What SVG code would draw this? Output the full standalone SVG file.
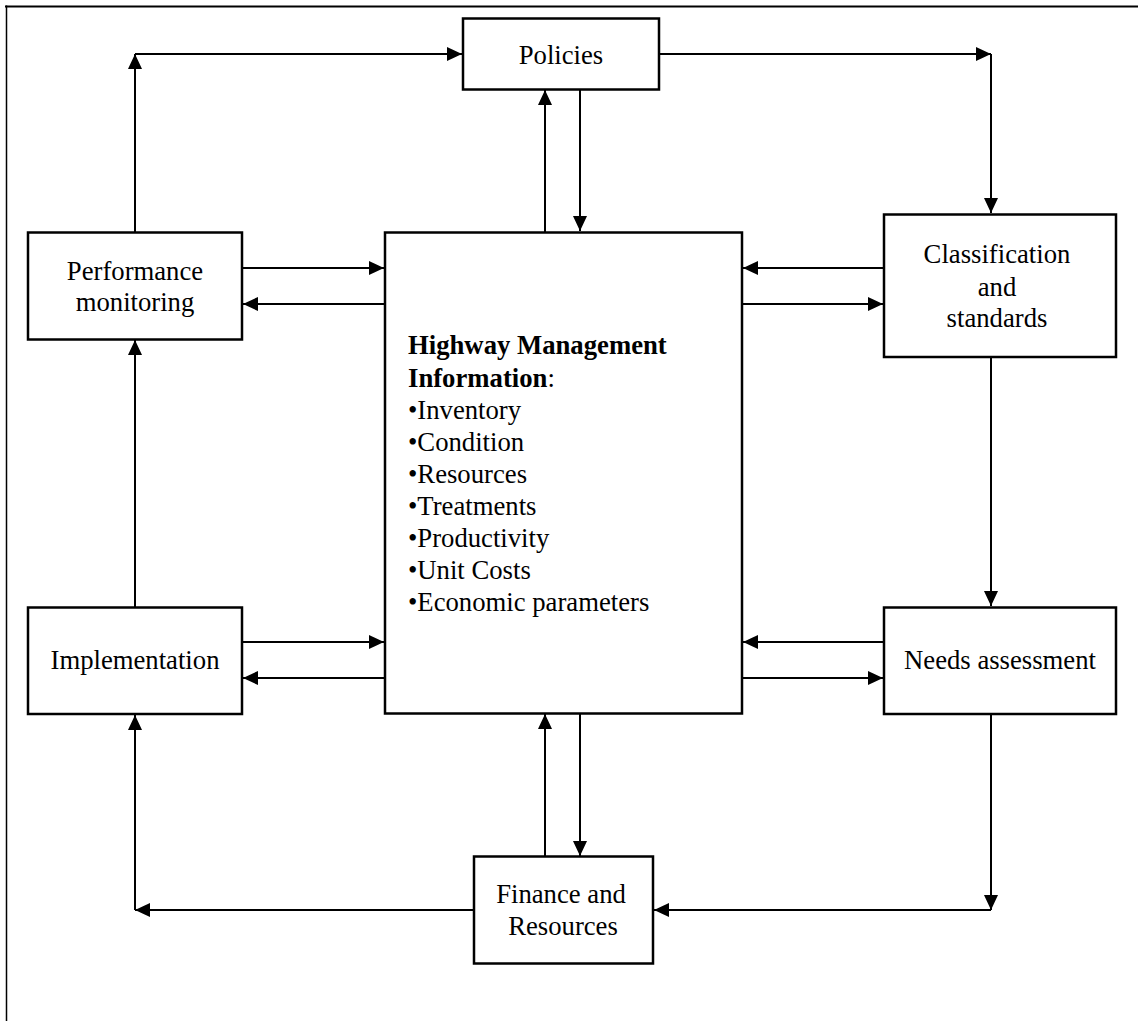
<svg xmlns="http://www.w3.org/2000/svg" width="1138" height="1021" viewBox="0 0 1138 1021">
<style>
.box{fill:#fff;stroke:#000;stroke-width:2.5}
.c line{stroke:#000;stroke-width:2;marker-end:url(#ah)}
text{font-family:'Liberation Serif','Times New Roman',Tinos,'DejaVu Serif',serif;font-size:26.7px;fill:#000}
.m{text-anchor:middle}
.b{font-weight:bold}
</style>
<defs>
<marker id="ah" markerUnits="userSpaceOnUse" markerWidth="15" markerHeight="14" refX="15" refY="7" orient="auto">
<path d="M0,0 L15,7 L0,14 z" fill="#000"/>
</marker>
</defs>
<rect width="1138" height="1021" fill="#fff"/>
<g id="frame">
<line x1="5" y1="6.5" x2="1138" y2="6.5" stroke="#000" stroke-width="2.2"/>
<line x1="6.5" y1="5.5" x2="6.5" y2="1021" stroke="#000" stroke-width="1.5"/>
</g>
<g class="c" id="connectors">
<line x1="135" y1="232" x2="135" y2="54"/>
<line x1="135" y1="54" x2="462" y2="54"/>
<line x1="660" y1="54" x2="991" y2="54"/>
<line x1="991" y1="54" x2="991" y2="213"/>
<line x1="991" y1="358" x2="991" y2="606"/>
<line x1="991" y1="715" x2="991" y2="910"/>
<line x1="991" y1="910" x2="654" y2="910"/>
<line x1="474" y1="910" x2="135" y2="910"/>
<line x1="135" y1="910" x2="135" y2="715"/>
<line x1="135" y1="607" x2="135" y2="340"/>
<line x1="545" y1="232" x2="545" y2="90"/>
<line x1="580" y1="90" x2="580" y2="231"/>
<line x1="545" y1="857" x2="545" y2="714"/>
<line x1="580" y1="714" x2="580" y2="856"/>
<line x1="243" y1="268" x2="384" y2="268"/>
<line x1="385" y1="304" x2="243" y2="304"/>
<line x1="884" y1="268" x2="743" y2="268"/>
<line x1="742" y1="304" x2="883" y2="304"/>
<line x1="243" y1="642" x2="384" y2="642"/>
<line x1="385" y1="678" x2="243" y2="678"/>
<line x1="884" y1="642" x2="743" y2="642"/>
<line x1="742" y1="678" x2="883" y2="678"/>
</g>
<g id="policies">
<rect class="box" x="463" y="18.5" width="196" height="71"/>
<text class="m" x="561" y="64">Policies</text>
</g>
<g id="performance">
<rect class="box" x="28" y="232.5" width="214" height="107"/>
<text class="m" x="135" y="280">Performance</text>
<text class="m" x="135" y="311">monitoring</text>
</g>
<g id="classification">
<rect class="box" x="884" y="214.5" width="232" height="142.5"/>
<text class="m" x="997" y="263">Classification</text>
<text class="m" x="997" y="296">and</text>
<text class="m" x="997" y="327">standards</text>
</g>
<g id="hmi">
<rect class="box" x="385" y="232.5" width="357" height="481"/>
<text x="408" y="354"><tspan class="b">Highway Management</tspan></text>
<text x="408" y="387"><tspan class="b">Information</tspan>:</text>
<text x="408" y="419">•Inventory</text>
<text x="408" y="451">•Condition</text>
<text x="408" y="483">•Resources</text>
<text x="408" y="515">•Treatments</text>
<text x="408" y="547">•Productivity</text>
<text x="408" y="579">•Unit Costs</text>
<text x="408" y="611">•Economic parameters</text>
</g>
<g id="implementation">
<rect class="box" x="28" y="607.5" width="214" height="106.5"/>
<text class="m" x="135" y="669">Implementation</text>
</g>
<g id="needs">
<rect class="box" x="884" y="607.5" width="232" height="106.5"/>
<text class="m" x="1000" y="669">Needs assessment</text>
</g>
<g id="finance">
<rect class="box" x="474" y="856.5" width="179" height="107"/>
<text class="m" x="561" y="903">Finance and</text>
<text class="m" x="563" y="935">Resources</text>
</g>
</svg>
